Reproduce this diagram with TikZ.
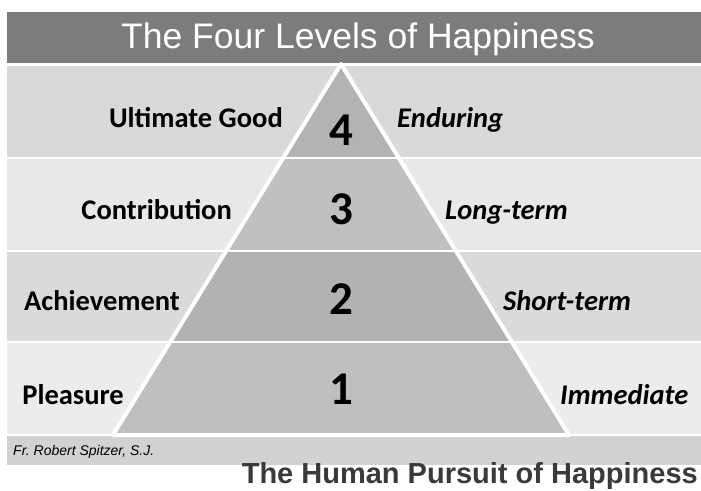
\documentclass[tikz,border=0pt]{standalone}
\usepackage{fontspec}
\setmainfont{Carlito}
\newfontfamily\arialfont{Liberation Sans}
\definecolor{titlebar}{HTML}{7C7C7C}
\definecolor{bandA}{HTML}{D9D9D9}
\definecolor{bandB}{HTML}{E8E8E8}
\definecolor{bandC}{HTML}{DADADA}
\definecolor{bandD}{HTML}{ECECEC}
\definecolor{footband}{HTML}{D2D2D2}
\definecolor{pyrA}{HTML}{B3B3B3}
\definecolor{pyrB}{HTML}{C0C0C0}
\definecolor{pyrC}{HTML}{B2B2B2}
\definecolor{pyrD}{HTML}{BFBFBF}
\definecolor{bottomtxt}{HTML}{3A3A3A}
\tikzset{
  leftlbl/.style={anchor=base east,inner sep=0pt,font=\fontsize{28.5}{31}\selectfont\bfseries},
  rightlbl/.style={anchor=base west,inner sep=0pt,font=\fontsize{28.5}{31}\selectfont\bfseries\itshape},
  numlbl/.style={anchor=base,inner sep=0pt,font=\fontsize{47}{50}\selectfont\bfseries},
}
\begin{document}
\begin{tikzpicture}[x=1pt,y=-1pt]
\useasboundingbox (0,0) rectangle (701,490);
\fill[white] (0,0) rectangle (701,490);
% title bar
\fill[titlebar] (7,12) rectangle (701,63);
\node[anchor=base,inner sep=0pt,text=white,font=\arialfont\fontsize{35.5}{38}\selectfont] (title) at (358,48) {The Four Levels of Happiness};
% bands
\fill[bandA] (7,66) rectangle (701,157);
\fill[bandB] (7,159) rectangle (701,250);
\fill[bandC] (7,252) rectangle (701,341);
\fill[bandD] (7,343) rectangle (701,434);
\fill[footband] (7,436) rectangle (701,465);
% pyramid
\coordinate (apex) at (341,64);
\coordinate (bl) at (113,435);
\coordinate (br) at (569,435);
\begin{scope}
\clip (apex) -- (bl) -- (br) -- cycle;
\fill[pyrA] (0,0) rectangle (701,158);
\fill[pyrB] (0,158) rectangle (701,251);
\fill[pyrC] (0,251) rectangle (701,342);
\fill[pyrD] (0,342) rectangle (701,440);
\draw[white,line width=1.5pt] (0,158) -- (701,158) (0,251) -- (701,251) (0,342) -- (701,342);
\end{scope}
\draw[white,line width=4pt,line join=round] (apex) -- (bl) -- (br) -- cycle;
% numbers
\node[numlbl] (n4) at (341,145) {4};
\node[numlbl] (n3) at (341,224) {3};
\node[numlbl] (n2) at (341,314) {2};
\node[numlbl] (n1) at (341,404) {1};
% left labels
\node[leftlbl] (l4) at (283,127) {Ultimate Good};
\node[leftlbl] (l3) at (232,219) {Contribution};
\node[leftlbl] (l2) at (180,310) {Achievement};
\node[leftlbl] (l1) at (124,404) {Pleasure};
% right labels
\node[rightlbl] (r4) at (397,127) {Enduring};
\node[rightlbl] (r3) at (445,219) {Long-term};
\node[rightlbl] (r2) at (503,310) {Short-term};
\node[rightlbl] (r1) at (560,404) {Immediate};
% footer
\node[anchor=base west,inner sep=0pt,font=\arialfont\itshape\fontsize{14}{16}\selectfont] (credit) at (13,455) {Fr.\ Robert Spitzer, S.J.};
\node[anchor=base east,inner sep=0pt,text=bottomtxt,font=\arialfont\bfseries\fontsize{29}{31}\selectfont] (subtitle) at (698,483) {The Human Pursuit of Happiness};
\end{tikzpicture}
\end{document}
